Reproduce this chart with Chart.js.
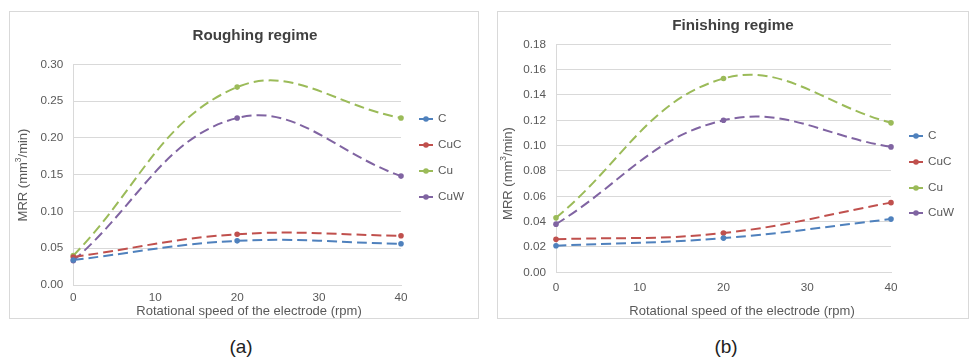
<!DOCTYPE html>
<html>
<head>
<meta charset="utf-8">
<script src="https://cdn.jsdelivr.net/npm/chart.js@4.4.1/dist/chart.umd.min.js"></script>
<style>
  html, body { margin: 0; padding: 0; background: #ffffff; }
  body { width: 970px; height: 358px; position: relative; overflow: hidden; font-family: "Liberation Sans", Arial, sans-serif; }
  .panel { position: absolute; outline: 1px solid #d9d9d9; }
  .cap { position: absolute; font-size: 19px; color: #222; transform: translate(-50%, -50%); white-space: nowrap; }
</style>
</head>
<body>
<div class="panel" style="left:10px; top:12px; width:468px; height:306px;"><canvas id="c1" width="468" height="306"></canvas></div>
<div class="panel" style="left:498px; top:12px; width:470px; height:306px;"><canvas id="c2" width="470" height="306"></canvas></div>
<div class="cap" style="left:241px; top:347px;">(a)</div>
<div class="cap" style="left:726px; top:347px;">(b)</div>
<script>
// ---- data ----
const rpm = [0, 20, 40];
const seriesNames = ["C", "CuC", "Cu", "CuW"];
const seriesColors = ["#4F81BD", "#C0504D", "#9BBB59", "#8064A2"];

const roughC   = [0.034, 0.060, 0.056];
const roughCuC = [0.038, 0.069, 0.067];
const roughCu  = [0.040, 0.269, 0.227];
const roughCuW = [0.033, 0.227, 0.148];

const finishC   = [0.021, 0.027, 0.042];
const finishCuC = [0.026, 0.031, 0.055];
const finishCu  = [0.043, 0.153, 0.118];
const finishCuW = [0.038, 0.120, 0.099];

const xTicks = [0, 10, 20, 30, 40];
const roughYMax = 0.30, roughYStep = 0.05;
const finishYMax = 0.18, finishYStep = 0.02;

const FONT = '"Liberation Sans", Arial, sans-serif';

function makeDatasets(arrs) {
  return arrs.map((vals, i) => ({
    label: seriesNames[i],
    data: rpm.map((x, j) => ({ x: x, y: vals[j] })),
    borderColor: seriesColors[i],
    backgroundColor: seriesColors[i],
    borderWidth: 2,
    borderDash: [10, 5],
    pointRadius: 2.8,
    pointBorderWidth: 0,
    pointHoverRadius: 2.8,
    tension: 0.4,
    clip: false,
    fill: false
  }));
}

const decoPlugin = {
  id: 'deco',
  afterDraw(chart) {
    const d = chart.options.plugins.deco;
    const ctx = chart.ctx;
    ctx.save();
    // title
    ctx.fillStyle = '#404040';
    ctx.font = 'bold 15.2px ' + FONT;
    ctx.textAlign = 'center';
    ctx.textBaseline = 'middle';
    ctx.fillText(d.title, d.titleX, d.titleY);
    // x axis title
    ctx.fillStyle = '#595959';
    ctx.font = '13px ' + FONT;
    ctx.fillText('Rotational speed of the electrode (rpm)', d.xTitleX, d.xTitleY);
    // y axis title with superscript
    ctx.translate(d.yTitleX, d.yTitleY);
    ctx.rotate(-Math.PI / 2);
    ctx.textAlign = 'left';
    const p1 = 'MRR (mm', p2 = '3', p3 = '/min)';
    ctx.font = '13px ' + FONT;
    const w1 = ctx.measureText(p1).width, w3 = ctx.measureText(p3).width;
    ctx.font = '8.5px ' + FONT;
    const w2 = ctx.measureText(p2).width;
    let x0 = -(w1 + w2 + w3) / 2;
    ctx.font = '13px ' + FONT;
    ctx.fillText(p1, x0, 0);
    ctx.font = '8.5px ' + FONT;
    ctx.fillText(p2, x0 + w1, -4);
    ctx.font = '13px ' + FONT;
    ctx.fillText(p3, x0 + w1 + w2, 0);
    ctx.restore();
    // legend
    ctx.save();
    ctx.font = '11.7px ' + FONT;
    ctx.textAlign = 'left';
    ctx.textBaseline = 'middle';
    chart.data.datasets.forEach((ds, i) => {
      const y = d.legendY[i];
      ctx.strokeStyle = ds.borderColor;
      ctx.lineWidth = 2;
      ctx.beginPath();
      ctx.moveTo(d.legendX, y);
      ctx.lineTo(d.legendX + 14, y);
      ctx.stroke();
      ctx.fillStyle = ds.borderColor;
      ctx.beginPath();
      ctx.arc(d.legendX + 7, y, 2.8, 0, Math.PI * 2);
      ctx.fill();
      ctx.fillStyle = '#595959';
      ctx.fillText(ds.label, d.legendTextX, y);
    });
    ctx.restore();
  }
};

function makeChart(id, arrs, yMax, yStep, lay, deco) {
  return new Chart(document.getElementById(id), {
    type: 'line',
    data: { datasets: makeDatasets(arrs) },
    options: {
      responsive: false,
      animation: false,
      devicePixelRatio: 1,
      layout: { padding: { top: lay.top, right: lay.right, left: 0, bottom: 0 } },
      plugins: { legend: { display: false }, title: { display: false }, tooltip: { enabled: false }, deco: deco },
      scales: {
        x: {
          type: 'linear', min: 0, max: 40,
          afterBuildTicks(scale) { scale.ticks = xTicks.map(v => ({ value: v })); },
          afterFit(scale) { scale.height = lay.xH; },
          grid: { drawOnChartArea: false, drawTicks: false },
          border: { display: true, color: '#d9d9d9', width: 1 },
          ticks: { color: '#595959', font: { family: FONT, size: 11.7 }, padding: lay.xPad, maxRotation: 0, autoSkip: false }
        },
        y: {
          min: 0, max: yMax,
          afterFit(scale) { scale.width = lay.yW; },
          grid: { color: '#d9d9d9', drawTicks: false, lineWidth: 1 },
          border: { display: true, color: '#d9d9d9', width: 1 },
          ticks: { stepSize: yStep, color: '#595959', font: { family: FONT, size: 11.7 }, padding: 10,
                   callback: v => v.toFixed(2) }
        }
      }
    },
    plugins: [decoPlugin]
  });
}

makeChart('c1', [roughC, roughCuC, roughCu, roughCuW], roughYMax, roughYStep,
  { top: 52.3, right: 77, xH: 33, yW: 63.3, xPad: 6 },
  { title: 'Roughing regime', titleX: 245, titleY: 24,
    xTitleX: 239, xTitleY: 299, yTitleX: 13, yTitleY: 163,
    legendX: 409, legendTextX: 428, legendY: [107, 133, 159, 185] });

makeChart('c2', [finishC, finishCuC, finishCu, finishCuW], finishYMax, finishYStep,
  { top: 32.3, right: 77, xH: 45.7, yW: 58, xPad: 8 },
  { title: 'Finishing regime', titleX: 235, titleY: 14,
    xTitleX: 244, xTitleY: 299, yTitleX: 10, yTitleY: 161.5,
    legendX: 411, legendTextX: 430, legendY: [124, 150, 176, 201] });
</script>
</body>
</html>
